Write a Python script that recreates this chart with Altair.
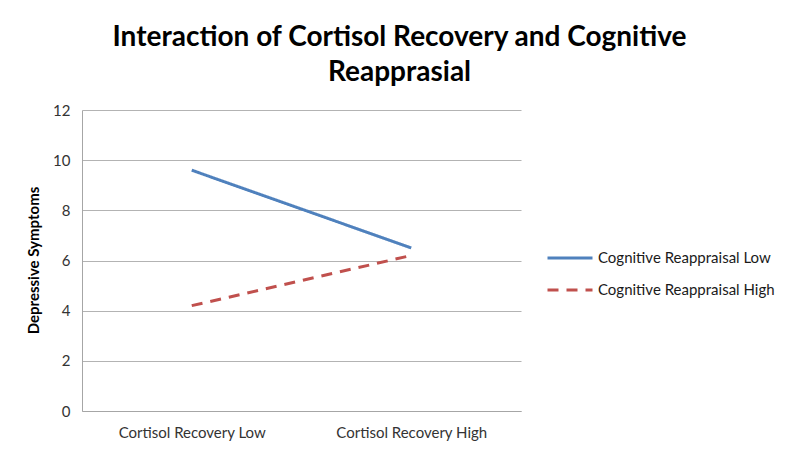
import altair as alt
import pandas as pd

categories = ["Cortisol Recovery Low", "Cortisol Recovery High"]
series = ["Cognitive Reappraisal Low", "Cognitive Reappraisal High"]
reappraisal_low = [9.6, 6.5]
reappraisal_high = [4.2, 6.2]
y_ticks = [0, 2, 4, 6, 8, 10, 12]

rows = []
for cat, v in zip(categories, reappraisal_low):
    rows.append({"cortisol": cat, "series": series[0], "value": v})
for cat, v in zip(categories, reappraisal_high):
    rows.append({"cortisol": cat, "series": series[1], "value": v})
df = pd.DataFrame(rows)

FONT = "Lato"


def make_legend():
    return alt.Legend(title=None, orient="none", legendX=464, legendY=124,
                      symbolType="stroke", symbolSize=2025,
                      symbolStrokeWidth=3, labelFontSize=15,
                      labelFont=FONT, labelColor="#1a1a1a", labelLimit=400,
                      labelOffset=4, rowPadding=0)


chart = alt.Chart(df).mark_line(strokeWidth=3).encode(
    x=alt.X("cortisol:N", sort=categories,
            scale=alt.Scale(type="point", padding=0.5),
            axis=alt.Axis(title=None, labelAngle=0, ticks=False, labelPadding=14,
                          domainColor="#a6a6a6", labelFontSize=15, labelColor="#333333",
                          labelFont=FONT)),
    y=alt.Y("value:Q", scale=alt.Scale(domain=[0, 12], nice=False),
            axis=alt.Axis(values=y_ticks, title="Depressive Symptoms", ticks=False,
                          labelPadding=12, labelFontSize=15, labelColor="#333333",
                          labelFont=FONT, domainColor="#a6a6a6", gridColor="#b3b3b3",
                          titleFont=FONT, titleFontSize=15, titleFontWeight="bold",
                          titleColor="#000000", titleX=-49, titleY=150,
                          titleBaseline="middle", titleAngle=270)),
    color=alt.Color("series:N", sort=series,
                    scale=alt.Scale(domain=series, range=["#4F81BD", "#C0504D"]),
                    legend=make_legend()),
    strokeDash=alt.StrokeDash("series:N", sort=series,
                              scale=alt.Scale(domain=series, range=[[1, 0], [11, 8]]),
                              legend=make_legend()),
).properties(
    width=439,
    height=301,
    padding={"left": 74, "top": 102, "right": 271, "bottom": 35},
    autosize=alt.AutoSizeParams(type="none"),
    background="white",
    title=alt.TitleParams(
        text=["Interaction of Cortisol Recovery and Cognitive", "Reapprasial"],
        font=FONT, fontSize=28, fontWeight="bold", color="#000000",
        anchor="middle", dx=98, offset=16, lineHeight=35,
    ),
).configure_view(stroke=None)

chart.save("out.html", embed_options={"renderer": "svg", "actions": False})
